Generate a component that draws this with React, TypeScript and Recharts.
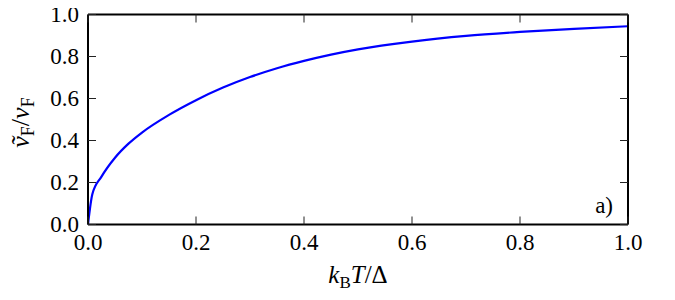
import { LineChart, Line, XAxis, YAxis } from 'recharts';

// k_B T / Delta
const temps = [0, 0.008, 0.025, 0.05, 0.075, 0.1, 0.15, 0.2, 0.25, 0.3, 0.35, 0.4, 0.45, 0.5, 0.6, 0.7, 0.8, 0.9, 1.0];
// renormalised Fermi velocity ratio
const velocityRatio = [0, 0.144, 0.228, 0.318, 0.385, 0.438, 0.522, 0.592, 0.652, 0.702, 0.744, 0.779, 0.809, 0.834, 0.871, 0.898, 0.917, 0.932, 0.944];
const axisTicks = [0, 0.2, 0.4, 0.6, 0.8, 1.0];

const data = temps.map((t, i) => ({ t, v: velocityRatio[i] }));

const FONT = '"Liberation Serif", "DejaVu Serif", serif';
const TICK_LEN = 8;
const GAP = 9;
const fmt = (v: number) => v.toFixed(1);

const BottomTick = (props: any) => {
  const { x, y, payload } = props;
  return (
    <g>
      <path d={`M${x},${y - GAP}V${y - GAP - TICK_LEN}`} stroke="#222" strokeWidth={1} fill="none" />
      <text x={x} y={y} dy="0.71em" textAnchor="middle" fontFamily={FONT} fontSize={23} fill="#000">
        {fmt(payload.value)}
      </text>
    </g>
  );
};

const LeftTick = (props: any) => {
  const { x, y, payload } = props;
  return (
    <g>
      <path d={`M${x + GAP},${y}H${x + GAP + TICK_LEN}`} stroke="#222" strokeWidth={1} fill="none" />
      <text x={x} y={y} dy="0.34em" textAnchor="end" fontFamily={FONT} fontSize={23} fill="#000">
        {fmt(payload.value)}
      </text>
    </g>
  );
};

const TopTick = (props: any) => {
  const { x, y } = props;
  return <path d={`M${x},${y}V${y + TICK_LEN}`} stroke="#222" strokeWidth={1} fill="none" />;
};

const RightTick = (props: any) => {
  const { x, y } = props;
  return <path d={`M${x},${y}H${x - TICK_LEN}`} stroke="#222" strokeWidth={1} fill="none" />;
};

const XLabel = ({ viewBox }: any) => {
  const cx = viewBox.x + viewBox.width / 2;
  const y = viewBox.y + 58;
  return (
    <text x={cx} y={y} textAnchor="middle" fontFamily={FONT} fontSize={25} fill="#000">
      <tspan fontStyle="italic">k</tspan>
      <tspan fontSize={17} dy={5}>B</tspan>
      <tspan fontStyle="italic" dy={-5}>T</tspan>
      <tspan>/Δ</tspan>
    </text>
  );
};

const YLabel = ({ viewBox }: any) => {
  const x = 29;
  const y = viewBox.y + viewBox.height / 2 + 3;
  return (
    <text x={x} y={y} transform={`rotate(-90 ${x} ${y})`} textAnchor="middle" fontFamily={FONT} fontSize={26} fill="#000">
      <tspan fontStyle="italic">{'v\u0303'}</tspan>
      <tspan fontSize={18} dy={5}>F</tspan>
      <tspan dy={-5}>/</tspan>
      <tspan fontStyle="italic">v</tspan>
      <tspan fontSize={18} dy={5}>F</tspan>
    </text>
  );
};

const PanelTag = ({ viewBox }: any) => (
  <text x={viewBox.x - 15} y={viewBox.y + viewBox.height - 12} textAnchor="end" fontFamily={FONT} fontSize={23} fill="#000">
    a)
  </text>
);

const frame = { stroke: '#000', strokeWidth: 2 };

export default function App() {
  return (
    <div style={{ width: 675, height: 300, margin: -8 }}>
      <LineChart
        width={675}
        height={300}
        data={data}
        margin={{ top: 13.5, right: 46, bottom: 15.5, left: 8 }}
      >
        <XAxis
          dataKey="t"
          type="number"
          domain={[0, 1]}
          ticks={axisTicks}
          interval={0}
          tickSize={0}
          tickMargin={GAP}
          tickLine={false}
          tick={BottomTick}
          height={60}
          axisLine={frame}
          label={{ content: XLabel }}
        />
        <XAxis
          xAxisId="top"
          orientation="top"
          dataKey="t"
          type="number"
          domain={[0, 1]}
          ticks={axisTicks}
          interval={0}
          tickSize={0}
          tickMargin={0}
          tickLine={false}
          tick={TopTick}
          height={1}
          axisLine={frame}
        />
        <YAxis
          type="number"
          domain={[0, 1]}
          ticks={axisTicks}
          interval={0}
          tickSize={0}
          tickMargin={GAP}
          tickLine={false}
          tick={LeftTick}
          width={80}
          axisLine={frame}
          label={{ content: YLabel }}
        />
        <YAxis
          yAxisId="right"
          orientation="right"
          type="number"
          domain={[0, 1]}
          ticks={axisTicks}
          interval={0}
          tickSize={0}
          tickMargin={0}
          tickLine={false}
          tick={RightTick}
          width={1}
          axisLine={frame}
          label={{ content: PanelTag }}
        />
        <Line
          xAxisId="top"
          yAxisId="right"
          dataKey="v"
          stroke="none"
          dot={false}
          activeDot={false}
          isAnimationActive={false}
        />
        <Line
          type="monotone"
          dataKey="v"
          stroke="#0000ff"
          strokeWidth={2.2}
          dot={false}
          isAnimationActive={false}
        />
      </LineChart>
    </div>
  );
}
